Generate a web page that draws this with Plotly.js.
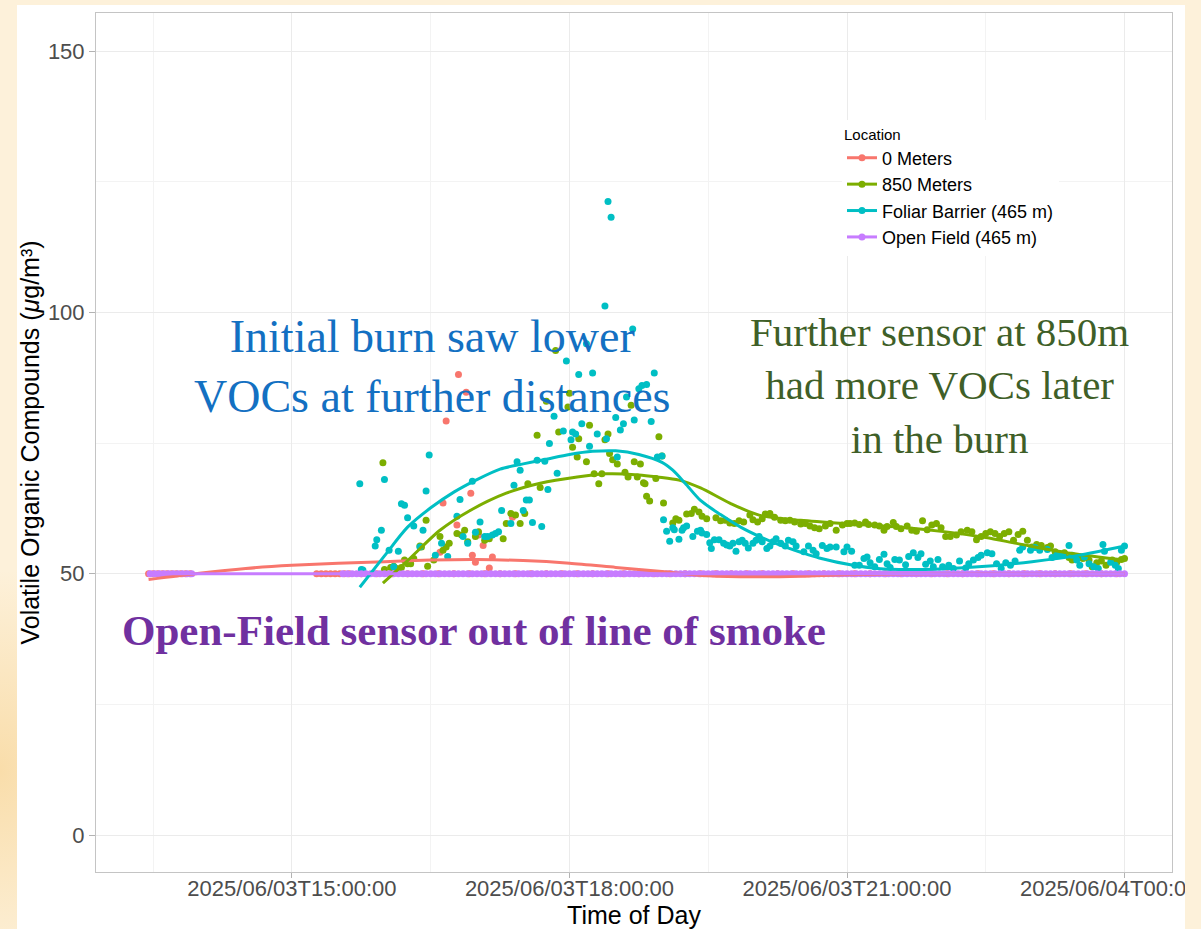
<!DOCTYPE html>
<html>
<head>
<meta charset="utf-8">
<script src="https://cdn.plot.ly/plotly-3.0.1.min.js"></script>
<style>
  html, body { margin: 0; padding: 0; }
  body {
    width: 1201px; height: 929px; overflow: hidden; position: relative;
    background: radial-gradient(ellipse 140px 200px at 0px 770px, #f9ddaa 0%, rgba(253,241,218,0) 100%), #fdf1da;
  }
  #card { position: absolute; left: 17px; top: 5px; width: 1168px; height: 924px; overflow: hidden; background: #ffffff; }
  #plot { position: absolute; left: -17px; top: -5px; width: 1201px; height: 929px; }
</style>
</head>
<body>
<div id="card"><div id="plot"></div></div>
<script>
// ---------------- DATA (minutes after 2025-06-03 15:00) ----------------
const seriesNames = ['0 Meters', '850 Meters', 'Foliar Barrier (465 m)', 'Open Field (465 m)'];

const xTickVals = ['2025-06-03 15:00', '2025-06-03 18:00', '2025-06-03 21:00', '2025-06-04 00:00'];
const xTickText = ['2025/06/03T15:00:00', '2025/06/03T18:00:00', '2025/06/03T21:00:00', '2025/06/04T00:00:00'];
const xMinorVals = ['2025-06-03 13:30', '2025-06-03 16:30', '2025-06-03 19:30', '2025-06-03 22:30'];
const yTickVals = [0, 50, 100, 150];

// 0 Meters points
const zeroMin = [-93,-90,-87,-84,-81,-78,-75,-72,-69,-66,
  16,19,22,25,28,31,34,37,
  45,55,65,75,85,95,105,115,125,135,145,155,165,175,185,195,205,215,225,235,245,255,265,275,285,295,305,315,325,335,345,355,365,375,385,395,405,415,425,435,445,455,465,475,485,495,505,515,525,535,
  96,98,100,107,108,113,116,117,119,121,124,128,130,143];
const zeroVal = [50,50,50,50,50,50,50,50,50,50,
  50,50,50,50,50,50,50,50,
  50,50,50,50,50,50,50,50,50,50,50,50,50,50,50,50,50,50,50,50,50,50,50,50,50,50,50,50,50,50,50,50,50,50,50,50,50,50,50,50,50,50,50,50,50,50,50,50,50,50,
  54.1,63.5,79.2,59.3,88.1,84.7,65.4,53.5,52.2,57.4,55.4,51.1,53.2,60.8];

// 850 Meters points
const m850Min = [59,60,64,66,68,71,73,75,77,79,83,84,87,88,92,96,98,100,102,107,110,112,114,119,121,125,128,137,139,142,145,148,151,153,159,161,165,171,173,179,180,182,185,186,191,193,196,199,201,203,205,206,208,211,216,218,220,222,224,226,228,229,230,232,236,238,240,241,247,249,251,256,259,261,264,266,269,275,278,281,284,287,290,293,297,299,302,305,307,310,313,317,320,323,326,330,333,336,339,342,346,349,353,357,360,362,365,368,372,374,378,381,384,386,390,392,395,399,402,405,409,412,415,418,421,424,427,431,434,438,441,444,447,450,453,456,459,462,465,468,471,474,477,480,483,486,490,492,495,498,501,504,506,510,513,517,519,522,525,528,532,535,538,540];
const m850Val = [71.2,50.8,51.2,51.4,51.0,51.2,52.6,51.9,51.9,52.9,55.3,55.1,60.2,51.4,52.6,57.1,54.5,55.1,55.8,57.7,57.4,58.3,56.1,57.1,58.0,56.4,56.7,56.7,59.6,61.5,61.2,59.6,61.5,67.2,76.5,66.5,83.0,92.7,77.1,81.9,84.5,74.2,72.3,75.8,71.4,78.4,69.1,67.2,69.1,75.6,76.7,73.0,71.8,71.0,69.4,68.5,82.2,71.4,68.5,71.0,67.4,67.2,64.8,63.9,68.2,76.2,72.5,63.5,59.7,60.5,60.2,61.4,61.5,62.3,61.8,61.0,60.5,60.7,60.1,60.2,59.7,59.6,60.1,59.9,61.2,60.3,59.9,60.5,61.4,61.5,60.8,60.2,60.1,60.2,59.9,59.5,59.6,59.1,58.8,58.6,59.1,59.6,58.3,59.3,59.6,59.6,59.7,59.4,59.9,59.4,59.3,59.1,58.3,59.0,59.8,59.0,58.6,59.1,58.3,58.1,60.1,58.4,59.3,59.6,58.8,57.1,57.1,57.4,58.0,58.3,58.0,56.5,57.1,57.7,58.0,57.7,57.1,57.7,58.0,56.4,57.5,58.1,56.4,55.1,55.6,55.4,55.0,55.3,54.2,53.8,54.0,53.1,52.6,53.3,52.9,52.6,51.3,52.1,52.4,51.6,52.6,52.2,52.7,52.9];

// Foliar Barrier points
const foliarMin = [44,45,46,54,55,58,60,63,66,69,71,73,75,79,83,85,87,89,93,97,101,107,109,111,114,117,119,122,125,127,130,132,134,136,142,144,146,148,150,152,154,156,159,162,164,166,167,170,172,176,178,181,182,184,186,188,191,193,195,198,203,204,205,207,210,211,213,215,217,221,222,225,227,230,233,235,237,240,241,243,245,247,248,251,253,254,256,260,263,265,266,269,271,272,274,277,280,282,284,286,288,290,292,294,296,299,301,303,305,308,310,312,314,317,320,322,325,327,332,335,338,340,344,347,349,353,358,360,363,365,368,371,373,375,378,381,384,386,388,391,394,398,400,403,406,408,411,414,416,419,422,426,429,433,437,439,442,445,447,451,454,457,460,463,466,469,472,474,479,482,485,490,493,496,500,504,506,509,511,514,517,520,523,526,527,531,534,536,538,540];
const foliarVal = [67.2,50.8,50.7,55.3,56.5,58.3,68.0,54.5,51.3,54.3,63.4,63.1,60.7,59.1,55.1,58.3,65.8,72.7,53.5,55.8,53.3,61.0,64.2,57.1,55.8,67.7,57.9,59.9,57.1,57.1,57.4,57.7,58.0,62.1,59.6,66.9,71.4,69.8,62.1,64.1,64.1,59.8,71.7,59.0,71.5,66.1,74.9,80.1,69.2,77.3,90.7,75.6,77.1,76.7,88.1,78.7,94.0,74.4,88.4,76.7,101.2,75.8,121.2,118.2,79.9,72.3,77.5,78.7,83.8,96.8,79.4,85.4,86.0,86.2,79.1,88.4,72.3,72.5,60.3,58.1,56.2,58.8,58.4,56.6,58.3,58.8,59.1,57.1,58.1,58.3,57.8,57.5,55.9,54.8,56.5,56.5,55.8,55.5,55.3,55.8,54.3,56.1,56.4,55.8,54.9,55.8,56.4,57.1,56.1,54.8,55.3,56.1,56.7,55.8,55.3,56.4,56.1,55.3,54.2,55.3,54.5,53.8,55.4,54.8,55.1,55.1,54.2,55.1,54.3,51.6,51.6,52.9,53.2,52.1,51.3,52.7,53.7,51.9,51.2,52.7,52.6,51.7,53.3,54.0,53.1,53.8,51.8,52.4,51.3,52.7,51.3,51.6,51.0,52.4,51.1,51.9,52.6,53.1,53.5,54.0,53.8,51.9,51.0,52.1,51.6,52.4,54.5,55.1,54.5,55.0,54.5,54.6,53.1,53.5,53.7,55.4,53.5,52.6,51.6,53.2,51.9,51.3,51.0,55.6,54.3,52.2,51.6,51.0,54.5,55.3];

// Open Field points
const openMin = [-92,-89,-86,-83,-80,-77,-74,-71,-68,-65,
  33,36,39,42,45,48,51,54,57,60,63,66,69,72,75,78,81,84,87,90,93,96,99,102,105,108,111,114,117,120,123,126,129,132,135,138,141,144,147,150,153,156,159,162,165,168,171,174,177,180,183,186,189,192,195,198,201,204,207,210,213,216,219,222,225,228,231,234,237,240,243,246,249,252,255,258,261,264,267,270,273,276,279,282,285,288,291,294,297,300,303,306,309,312,315,318,321,324,327,330,333,336,339,342,345,348,351,354,357,360,363,366,369,372,375,378,381,384,387,390,393,396,399,402,405,408,411,414,417,420,423,426,429,432,435,438,441,444,447,450,453,456,459,462,465,468,471,474,477,480,483,486,489,492,495,498,501,504,507,510,513,516,519,522,525,528,531,534,537,540];
const openVal = [50,50,50,50,50,50,50,50,50,50,50,50,50,50,50,50,50,50,50,50,
  50,50,50,50,50,50,50,50,50,50,50,50,50,50,50,50,50,50,50,50,
  50,50,50,50,50,50,50,50,50,50,50,50,50,50,50,50,50,50,50,50,
  50,50,50,50,50,50,50,50,50,50,50,50,50,50,50,50,50,50,50,50,
  50,50,50,50,50,50,50,50,50,50,50,50,50,50,50,50,50,50,50,50,
  50,50,50,50,50,50,50,50,50,50,50,50,50,50,50,50,50,50,50,50,
  50,50,50,50,50,50,50,50,50,50,50,50,50,50,50,50,50,50,50,50,
  50,50,50,50,50,50,50,50,50,50,50,50,50,50,50,50,50,50,50,50,
  50,50,50,50,50,50,50,50,50,50,50,50,50,50,50,50,50,50,50,50];

// Smoothed (loess) curves
const zeroFitMin = [-93,-60,-30,0,30,60,90,120,150,180,210,240,270,300,330,360,420,480,540];
const zeroFitVal = [48.9,50.1,51.0,51.6,52.0,52.3,52.6,52.7,52.5,52.0,51.2,50.4,49.6,49.4,49.5,49.8,50.0,50.0,50.0];
const m850FitMin = [59,75,96,115,139,161,185,204,225,237,251,265,284,303,330,362,395,427,450,470,505,540];
const m850FitVal = [48.2,52.5,58.3,62.0,65.4,67.3,68.5,69.1,68.9,68.5,67.9,66.4,63.5,61.2,60.2,59.5,58.9,57.9,56.9,55.8,53.9,52.6];
const foliarFitMin = [44,60,75,90,105,120,135,150,165,180,195,210,225,240,247,255,265,278,291,304,317,330,342,364,380,400,420,450,480,510,540];
const foliarFitVal = [47.4,53.4,58.9,62.6,65.6,68.0,70.0,71.0,71.9,72.8,73.4,73.5,72.8,71.3,69.8,67.3,64.0,61.3,58.9,57.0,55.4,54.1,53.0,51.6,51.0,50.8,50.9,51.4,52.3,53.5,55.3];
const openFitMin = [-92,540];
const openFitVal = [50,50];

// ---------------- helpers ----------------
function pad(n) { return (n < 10 ? '0' : '') + n; }
function toTime(m) {
  const total = 15 * 60 + m;
  const day = 3 + Math.floor(total / 1440);
  const r = ((total % 1440) + 1440) % 1440;
  return '2025-06-' + pad(day) + ' ' + pad(Math.floor(r / 60)) + ':' + pad(r % 60);
}
const colors = ['#F8766D', '#7CAE00', '#00BFC4', '#C77CFF'];
const pts = [[zeroMin, zeroVal], [m850Min, m850Val], [foliarMin, foliarVal], [openMin, openVal]];
const fits = [[zeroFitMin, zeroFitVal], [m850FitMin, m850FitVal], [foliarFitMin, foliarFitVal], [openFitMin, openFitVal]];

const traces = [];
pts.forEach((p, i) => {
  traces.push({
    type: 'scatter', mode: 'markers', name: seriesNames[i], showlegend: false, legendgroup: 'g' + i,
    x: p[0].map(toTime), y: p[1],
    marker: { color: colors[i], size: 7, line: { width: 0 } },
    hoverinfo: 'x+y'
  });
});
fits.forEach((f, i) => {
  traces.push({
    type: 'scatter', mode: 'lines', name: seriesNames[i], showlegend: false, legendgroup: 'g' + i,
    x: f[0].map(toTime), y: f[1],
    line: { color: colors[i], width: 3, shape: 'spline', smoothing: 0.8 },
    hoverinfo: 'skip'
  });
});
seriesNames.forEach((n, i) => {
  traces.push({
    type: 'scatter', mode: 'lines+markers', name: n, legendgroup: 'g' + i,
    x: [null], y: [null],
    marker: { color: colors[i], size: 7 },
    line: { color: colors[i], width: 3 }
  });
});

const layout = {
  width: 1201, height: 929,
  margin: { l: 96, r: 29, t: 13, b: 57 },
  paper_bgcolor: 'rgba(0,0,0,0)',
  plot_bgcolor: '#ffffff',
  font: { family: 'Liberation Sans, Arial, sans-serif', color: '#000000' },
  showlegend: true,
  legend: {
    x: 0.6933, y: 0.8754, xanchor: 'left', yanchor: 'top',
    bgcolor: '#ffffff', borderwidth: 0,
    font: { size: 18, color: '#000000' },
    title: { text: 'Location', font: { size: 15, color: '#000000' } },
    tracegroupgap: 0, itemwidth: 30
  },
  xaxis: {
    type: 'date',
    range: ['2025-06-03 12:52:54', '2025-06-04 00:30:48'],
    tickmode: 'array', tickvals: xTickVals, ticktext: xTickText,
    tickfont: { size: 22, color: '#4d4d4d' },
    ticks: 'outside', ticklen: 5, tickcolor: '#b3b3b3', tickwidth: 1,
    ticklabelstandoff: -8,
    ticklabeloverflow: 'allow',
    showgrid: true, gridcolor: '#ebebeb', gridwidth: 1,
    minor: { tickmode: 'array', tickvals: xMinorVals, showgrid: true, gridcolor: '#f3f3f3', gridwidth: 1, ticks: '' },
    showline: true, mirror: true, linecolor: '#c4c4c4', linewidth: 1,
    zeroline: false,
    title: { text: 'Time of Day', font: { size: 25, color: '#000000' }, standoff: 4 },
    automargin: false
  },
  yaxis: {
    range: [-7.08, 157.27],
    tickmode: 'array', tickvals: yTickVals,
    tickfont: { size: 22, color: '#4d4d4d' },
    ticks: 'outside', ticklen: 6, tickcolor: '#b3b3b3', tickwidth: 1,
    showgrid: true, gridcolor: '#ebebeb', gridwidth: 1,
    minor: { tickmode: 'array', tickvals: [25, 75, 125], showgrid: true, gridcolor: '#f3f3f3', gridwidth: 1, ticks: '' },
    showline: true, mirror: true, linecolor: '#c4c4c4', linewidth: 1,
    zeroline: false,
    title: { text: 'Volatile Organic Compounds (<i>μ</i>g/m³)', font: { size: 25, color: '#000000' }, standoff: 1 },
    automargin: false
  },
  annotations: [
    {
      xref: 'x', yref: 'y', x: '2025-06-03 16:31', y: 89.7, xanchor: 'center', yanchor: 'middle',
      text: 'Initial burn saw lower<br>VOCs at further distances', showarrow: false, align: 'center',
      font: { family: 'Liberation Serif, Times New Roman, serif', size: 46, color: '#1370C2' }
    },
    {
      xref: 'x', yref: 'y', x: '2025-06-03 22:00', y: 86.0, xanchor: 'center', yanchor: 'middle',
      text: 'Further sensor at 850m<br>had more VOCs later<br>in the burn', showarrow: false, align: 'center',
      font: { family: 'Liberation Serif, Times New Roman, serif', size: 41, color: '#3F5F28' }
    },
    {
      xref: 'x', yref: 'y', x: '2025-06-03 16:58', y: 39.2, xanchor: 'center', yanchor: 'middle',
      text: '<b>Open-Field sensor out of line of smoke</b>', showarrow: false, align: 'center',
      font: { family: 'Liberation Serif, Times New Roman, serif', size: 43, color: '#7030A0' }
    }
  ]
};

Plotly.newPlot('plot', traces, layout, { displayModeBar: false, responsive: false });
</script>
</body>
</html>
